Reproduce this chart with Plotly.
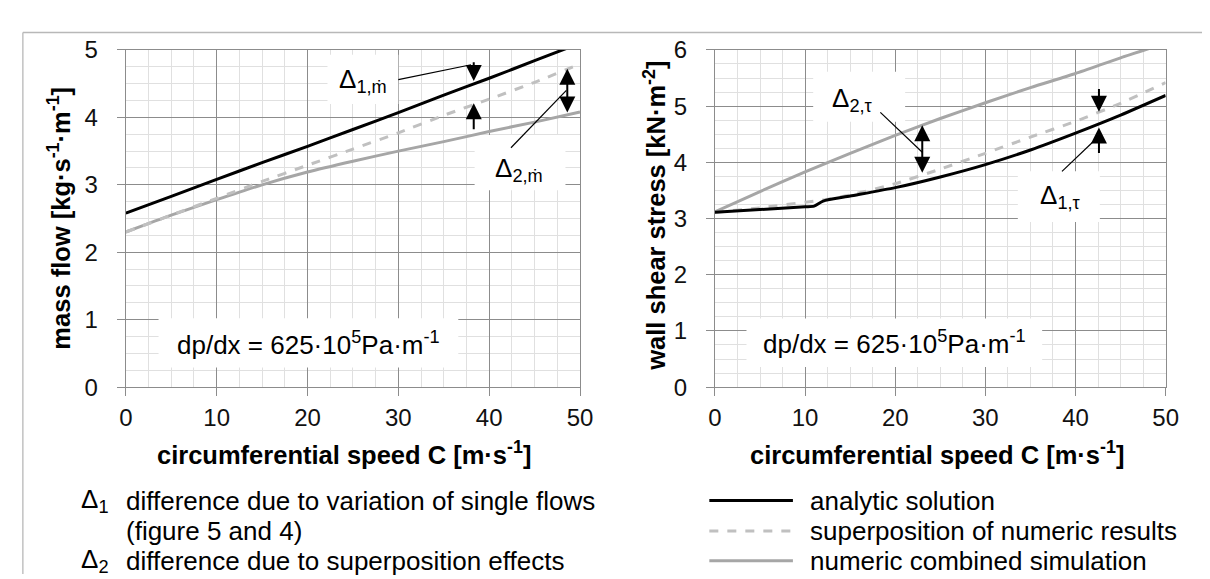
import plotly.graph_objects as go

# ---------------- data ----------------
# left panel: mass flow [kg s^-1 m^-1] vs circumferential speed C [m/s]
mf_x = [0, 5, 10, 15, 20, 25, 30, 35, 40, 45, 50]
mf_analytic = [2.58, 2.83, 3.08, 3.33, 3.57, 3.82, 4.07, 4.33, 4.58, 4.84, 5.10]
mf_superpos = [2.30, 2.55, 2.80, 3.05, 3.29, 3.53, 3.77, 4.03, 4.27, 4.52, 4.79]
mf_combined = [2.30, 2.55, 2.78, 3.00, 3.19, 3.35, 3.50, 3.64, 3.79, 3.93, 4.08]

# right panel: wall shear stress [kN m^-2] vs circumferential speed C [m/s]
ws_x = [0, 5, 10, 11, 12, 15, 20, 25, 30, 35, 40, 45, 50]
ws_analytic = [3.11, 3.16, 3.21, 3.22, 3.31, 3.40, 3.55, 3.74, 3.96, 4.22, 4.52, 4.84, 5.19]
ws_superpos = [3.11, 3.19, 3.29, 3.31, 3.33, 3.42, 3.62, 3.88, 4.16, 4.45, 4.73, 5.05, 5.42]
wsc_x = [0, 5, 10, 15, 20, 25, 30, 35, 40, 45, 50]
ws_combined = [3.12, 3.48, 3.83, 4.16, 4.48, 4.78, 5.06, 5.33, 5.58, 5.86, 6.12]

x_ticks = [0, 10, 20, 30, 40, 50]
series_names = ["analytic solution", "superposition of numeric results",
                "numeric combined simulation"]

# ---------------- styles ----------------
FONT = "Liberation Sans, Arial, sans-serif"
TICK_FS = 24
TITLE_FS = 25.5
TEXT_FS = 26
BLACK = "#000000"
DASHGRAY = "#c0c0c0"
SOLIDGRAY = "#a6a6a6"
MAJOR = "#8c8c8c"
MINOR = "#e0e0e0"
W, H = 1210, 579

def px(v):
    return v / W

def py(v):
    return 1 - v / H

fig = go.Figure()

def add_series(xs, ys, name, color, dash, xa, ya):
    fig.add_trace(go.Scatter(x=xs, y=ys, mode="lines", name=name,
                             line=dict(color=color, width=3, dash=dash, shape="spline", smoothing=0.6),
                             xaxis=xa, yaxis=ya, showlegend=False, cliponaxis=True))

add_series(mf_x, mf_combined, series_names[2], SOLIDGRAY, "solid", "x", "y")
add_series(mf_x, mf_superpos, series_names[1], DASHGRAY, "dash", "x", "y")
add_series(mf_x, mf_analytic, series_names[0], BLACK, "solid", "x", "y")
add_series(wsc_x, ws_combined, series_names[2], SOLIDGRAY, "solid", "x2", "y2")
add_series(ws_x, ws_superpos, series_names[1], DASHGRAY, "dash", "x2", "y2")
add_series(ws_x, ws_analytic, series_names[0], BLACK, "solid", "x2", "y2")

def xaxis_cfg(domain):
    return dict(domain=domain, range=[0, 50], tickvals=x_ticks, showgrid=True,
                gridcolor=MAJOR, gridwidth=1.3, showline=True, mirror=True,
                linecolor=MAJOR, linewidth=1.3, ticks="outside", ticklen=8,
                tickcolor=MAJOR, tickwidth=1.3, zeroline=False,
                tickfont=dict(family=FONT, size=TICK_FS, color="#111"),
                ticklabelstandoff=1,
                minor=dict(dtick=2.5, showgrid=True, gridcolor=MINOR, gridwidth=1))

def yaxis_cfg(domain, top, anchor):
    return dict(domain=domain, range=[0, top], dtick=1, anchor=anchor, showgrid=True,
                gridcolor=MAJOR, gridwidth=1.3, showline=True, mirror=True,
                linecolor=MAJOR, linewidth=1.3, ticks="outside", ticklen=8,
                tickcolor=MAJOR, tickwidth=1.3, zeroline=False,
                tickfont=dict(family=FONT, size=TICK_FS, color="#111"),
                ticklabelstandoff=14,
                minor=dict(dtick=0.25, showgrid=True, gridcolor=MINOR, gridwidth=1))

ydom = [py(383), py(29.3)]
fig.update_layout(
    width=W, height=H, margin=dict(l=0, r=0, t=0, b=0),
    paper_bgcolor="white", plot_bgcolor="white",
    xaxis=xaxis_cfg([px(112.7), px(574.5)]) | dict(anchor="y"),
    yaxis=yaxis_cfg(ydom, 5, "x"),
    xaxis2=xaxis_cfg([px(711.7), px(1170)]) | dict(anchor="y2"),
    yaxis2=yaxis_cfg(ydom, 6, "x2"),
    font=dict(family=FONT, size=TEXT_FS, color="#111"),
)

shapes = []
annots = []

def box(x0, x1, y0, y1, xr, yr):
    shapes.append(dict(type="rect", xref=xr, yref=yr, x0=x0, x1=x1, y0=y0, y1=y1,
                       fillcolor="white", line=dict(width=0), layer="between"))

def leader(x0, y0, x1, y1, xr, yr):
    shapes.append(dict(type="line", xref=xr, yref=yr, x0=x0, y0=y0, x1=x1, y1=y1,
                       line=dict(color="black", width=1.2), layer="above"))

def arrow(x, ytail, ytip, xr, yr, both=False):
    annots.append(dict(x=x, y=ytip, ax=x, ay=ytail, xref=xr, yref=yr, axref=xr, ayref=yr,
                       text="", showarrow=True, arrowhead=2, arrowsize=1.6, arrowwidth=2,
                       arrowcolor="black", arrowside="end+start" if both else "end",
                       startarrowhead=2, startarrowsize=1.6, standoff=0, startstandoff=0,
                       font=dict(family=FONT, size=10)))

def label(x, y, text, xr, yr, size=TEXT_FS):
    annots.append(dict(x=x, y=y, xref=xr, yref=yr, text=text, showarrow=False,
                       font=dict(family=FONT, size=size, color="black"),
                       xanchor="center", yanchor="middle"))

# ----- left panel annotations -----
box(22.2, 30.0, 4.20, 4.93, "x", "y")
label(26.1, 4.55, "Δ<sub>1,ṁ</sub>", "x", "y")
leader(30.0, 4.56, 38.0, 4.78, "x", "y")
arrow(38.3, 4.84, 4.54, "x", "y")
arrow(38.3, 3.80, 4.21, "x", "y")

box(38.4, 48.4, 2.92, 3.74, "x", "y")
label(43.3, 3.22, "Δ<sub>2,ṁ</sub>", "x", "y")
leader(42.4, 3.55, 48.5, 4.40, "x", "y")
arrow(48.6, 4.05, 4.72, "x", "y", both=True)

box(3.6, 36.6, 0.29, 1.02, "x", "y")
label(20.1, 0.65, "dp/dx = 625·10<sup>5</sup>Pa·m<sup>-1</sup>", "x", "y")

# ----- right panel annotations -----
box(10.9, 21.1, 4.72, 5.61, "x2", "y2")
label(15.3, 5.12, "Δ<sub>2,τ</sub>", "x2", "y2")
leader(18.35, 4.89, 23.0, 4.18, "x2", "y2")
arrow(23.0, 3.79, 4.66, "x2", "y2", both=True)

box(33.6, 42.7, 2.94, 3.84, "x2", "y2")
label(38.3, 3.39, "Δ<sub>1,τ</sub>", "x2", "y2")
leader(38.5, 3.84, 42.3, 4.42, "x2", "y2")
arrow(42.6, 5.33, 4.90, "x2", "y2")
arrow(42.6, 4.14, 4.62, "x2", "y2")

box(3.5, 36.3, 0.36, 1.22, "x2", "y2")
label(19.9, 0.79, "dp/dx = 625·10<sup>5</sup>Pa·m<sup>-1</sup>", "x2", "y2")

# ----- axis titles -----
def ptext(x, y, text, size, bold=False, angle=0, xanchor="center"):
    annots.append(dict(x=px(x), y=py(y), xref="paper", yref="paper", text=text,
                       showarrow=False, textangle=angle, xanchor=xanchor, yanchor="middle",
                       font=dict(family=FONT, size=size, color="black",
                                 weight="bold" if bold else "normal")))

ptext(335, 452, "circumferential speed C [m·s<sup>-1</sup>]", TITLE_FS, True)
ptext(937, 452, "circumferential speed C [m·s<sup>-1</sup>]", TITLE_FS, True)
ptext(45, 206, "mass flow [kg·s<sup>-1</sup>·m<sup>-1</sup>]", TITLE_FS, True, -90)
ptext(650, 203, "wall shear stress [kN·m<sup>-2</sup>]", TITLE_FS, True, -90)

# ----- bottom legend -----
ptext(65, 502, "Δ<sub>1</sub>", TEXT_FS, False, 0, "left")
ptext(111, 502, "difference due to variation of single flows", TEXT_FS, False, 0, "left")
ptext(111, 534, "(figure 5 and 4)", TEXT_FS, False, 0, "left")
ptext(65, 565, "Δ<sub>2</sub>", TEXT_FS, False, 0, "left")
ptext(111, 565, "difference due to superposition effects", TEXT_FS, False, 0, "left")

leg_rows = [(502, BLACK, "solid"), (534, DASHGRAY, "dash"), (565, SOLIDGRAY, "solid")]
for (yy, col, dsh), nm in zip(leg_rows, series_names):
    shapes.append(dict(type="line", xref="paper", yref="paper", x0=px(706), x1=px(791),
                       y0=py(yy), y1=py(yy), line=dict(color=col, width=3, dash=dsh)))
    ptext(806, yy, nm, TEXT_FS, False, 0, "left")

# ----- outer frame (top and left edges) -----
shapes.append(dict(type="line", xref="paper", yref="paper", x0=px(8), x1=1,
                   y0=py(11), y1=py(11), line=dict(color="#b8b8b8", width=1.3)))
shapes.append(dict(type="line", xref="paper", yref="paper", x0=px(8), x1=px(8),
                   y0=0, y1=py(11), line=dict(color="#b8b8b8", width=1.3)))

fig.update_layout(shapes=shapes, annotations=annots)
fig.write_html("out.html")
